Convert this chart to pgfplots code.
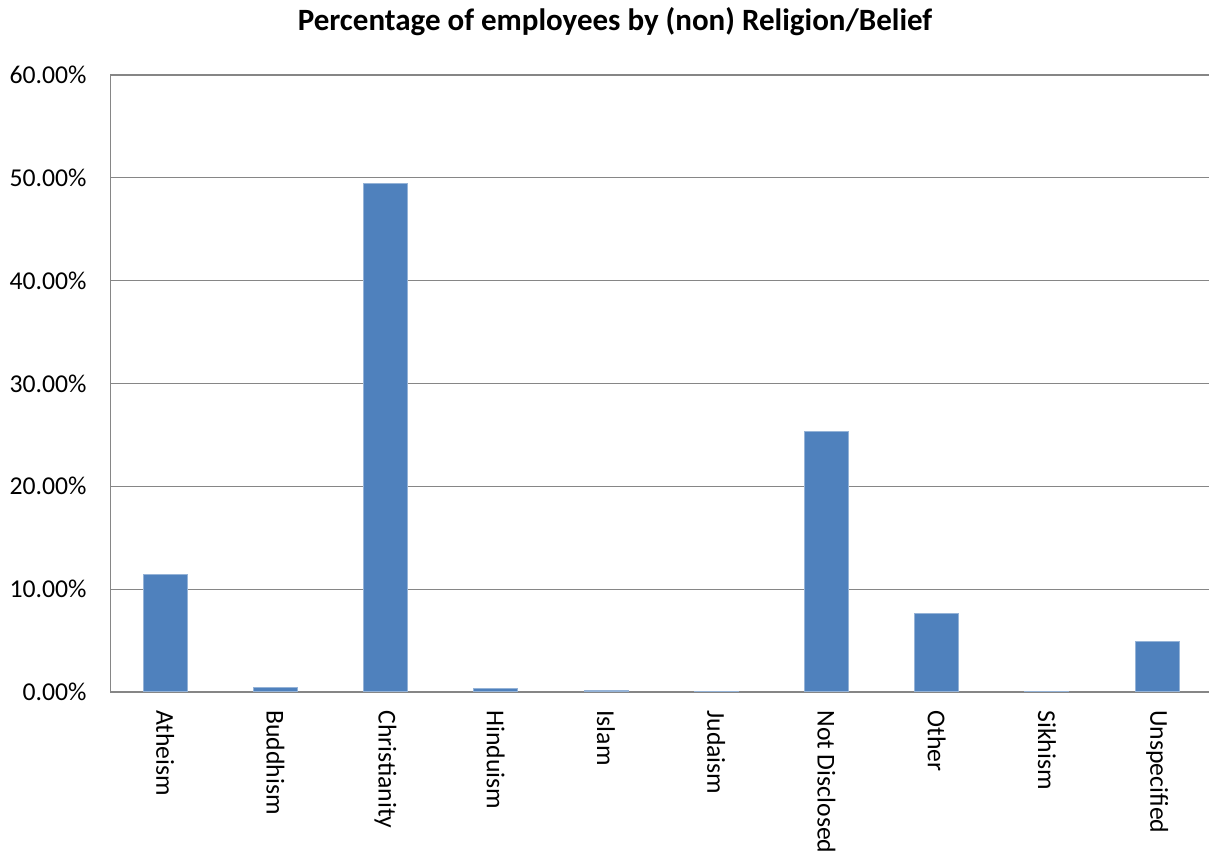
\documentclass[border=0pt]{standalone}
\usepackage{fontspec}
\setmainfont{Carlito}
\usepackage{pgfplots}
\pgfplotsset{compat=1.18}
\definecolor{barblue}{HTML}{4F81BD}
\definecolor{gridgray}{HTML}{868686}
\begin{document}
\begin{tikzpicture}
\path[use as bounding box] (0,0) rectangle (604.5pt,427.5pt);
\node[font=\fontsize{15.5}{18}\selectfont\bfseries, anchor=center] at (307.5pt,416.5pt) {Percentage of employees by (non) Religion/Belief};
\begin{axis}[
  at={(55pt,81.5pt)}, anchor=south west,
  scale only axis,
  width=549.5pt, height=308.5pt,
  xmin=-0.5, xmax=9.47,
  ymin=0, ymax=60,
  axis lines*=left,
  axis line style={gridgray, -},
  ymajorgrids,
  grid style={gridgray, line width=0.6pt},
  major tick length=0pt,
  xtick={0,...,9},
  xticklabels={Atheism,Buddhism,Christianity,Hinduism,Islam,Judaism,Not Disclosed,Other,Sikhism,Unspecified},
  ytick={0,10,20,30,40,50,60},
  yticklabels={0.00\%,10.00\%,20.00\%,30.00\%,40.00\%,50.00\%,60.00\%},
  tick label style={font=\fontsize{12.85}{15}\selectfont, black},
  yticklabel style={inner sep=0pt, xshift=-11.5pt},
  xticklabel style={yshift=-9pt, rotate=-90, anchor=west, inner sep=0pt},
  clip=false,
]
\addplot[ybar, bar width=22pt, fill=barblue, draw=barblue!60!white, line width=0.5pt]
  coordinates {(0,11.45) (1,0.42) (2,49.4) (3,0.30) (4,0.17) (5,0.03) (6,25.35) (7,7.6) (8,0.02) (9,4.9)};
\end{axis}
\end{tikzpicture}
\end{document}
